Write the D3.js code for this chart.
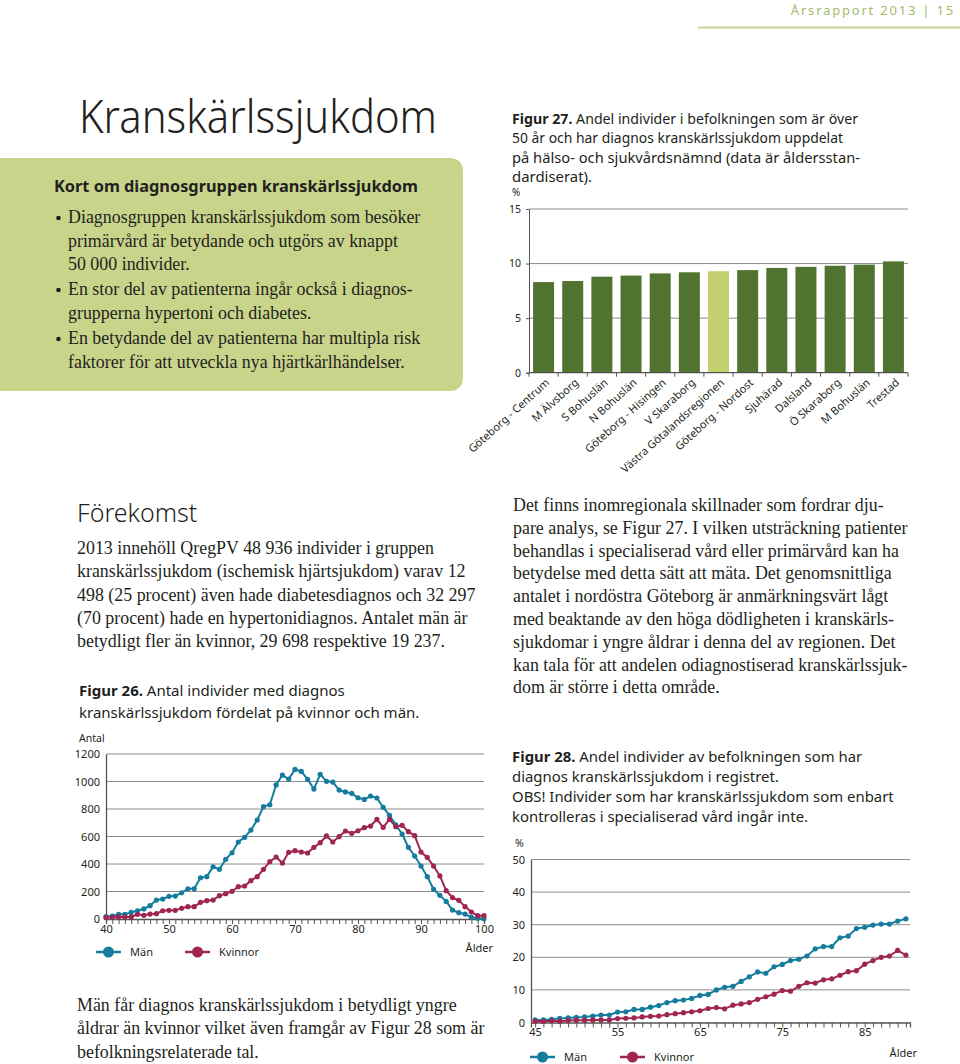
<!DOCTYPE html>
<html><head><meta charset="utf-8">
<script src="https://cdn.jsdelivr.net/npm/d3@7"></script>
<style>body{margin:0;background:#fff} svg{display:block}</style>
</head><body><svg id="c" width="960" height="1064"></svg>
<script>
// ---------- DATA ----------
const regions = ["Göteborg - Centrum","M Älvsborg","S Bohuslän","N Bohuslän","Göteborg - Hisingen","V Skaraborg","Västra Götalandsregionen","Göteborg - Nordost","Sjuhärad","Dalsland","Ö Skaraborg","M Bohuslän","Trestad"];
const regionShare = [8.3,8.4,8.8,8.9,9.1,9.2,9.3,9.4,9.6,9.7,9.8,9.9,10.2];
const highlightRegion = "Västra Götalandsregionen";
const fig27YTicks = [0,5,10,15];

const ages26 = [40,41,42,43,44,45,46,47,48,49,50,51,52,53,54,55,56,57,58,59,60,61,62,63,64,65,66,67,68,69,70,71,72,73,74,75,76,77,78,79,80,81,82,83,84,85,86,87,88,89,90,91,92,93,94,95,96,97,98,99,100];
const men26 = [17,22,34,34,48,60,73,97,138,145,165,167,191,220,220,300,308,380,361,434,482,560,594,647,720,817,831,975,1047,1018,1088,1073,1016,945,1052,1001,996,938,924,914,882,870,894,880,812,754,684,618,521,458,385,308,216,172,128,65,46,36,12,5,2];
const women26 = [10,12,15,15,15,34,27,36,39,60,63,63,78,90,90,121,133,138,170,184,201,235,240,279,308,361,417,451,407,485,497,487,480,521,555,604,560,599,640,623,642,664,676,725,667,725,671,681,635,606,487,448,385,313,206,156,136,90,51,24,24];
const fig26YTicks = [0,200,400,600,800,1000,1200];
const fig26XTicks = [40,50,60,70,80,90,100];

const ages28 = [45,46,47,48,49,50,51,52,53,54,55,56,57,58,59,60,61,62,63,64,65,66,67,68,69,70,71,72,73,74,75,76,77,78,79,80,81,82,83,84,85,86,87,88,89,90];
const men28 = [0.8,0.8,1.0,1.3,1.4,1.6,1.7,2.0,2.3,2.3,3.2,3.3,4.0,4.0,4.7,5.2,6.1,6.7,6.9,7.4,8.3,8.6,10.0,10.8,11.1,12.6,14.0,15.5,15.1,17.1,17.8,19.0,19.4,20.4,22.6,23.3,23.3,26.0,26.5,28.8,29.2,29.9,30.2,30.2,31.1,31.8];
const women28 = [0.4,0.3,0.5,0.4,0.6,0.7,0.7,0.8,0.8,0.8,1.2,1.3,1.4,1.7,1.9,2.0,2.4,2.7,3.0,3.3,3.6,4.3,4.6,4.2,5.3,5.7,6.1,7.1,7.9,8.7,9.8,9.6,11.1,12.2,12.1,13.1,13.4,14.5,15.6,15.9,17.9,19.0,20.0,20.4,22.1,20.7];
const fig28YTicks = [0,10,20,30,40,50];
const fig28XTicks = [45,55,65,75,85];

const seriesNames = ["Män","Kvinnor"];

// ---------- STYLE ----------
const C = {text:"#231f20", men:"#157c9e", women:"#9e2650", bar:"#50742f", barHi:"#c4cf6d",
  grid:"#8c8c8c", axis:"#555", box:"#c9d48b", head:"#a3ba6c"};
const SANS = "'Noto Sans', 'Open Sans', sans-serif";
const SERIF = "'Liberation Serif', 'DejaVu Serif', serif";
const BODY = 17.9;

const svg = d3.select("#c");

function textLines(x, y0, dy, arr, o) {
  arr.forEach((ln, i) => {
    const t = svg.append("text").attr("x", x).attr("y", y0 + i*dy)
      .attr("font-family", o.family).attr("font-size", o.size).attr("fill", C.text);
    if (o.weight) t.attr("font-weight", o.weight);
    if (o.fit && o.fit[i]) t.attr("textLength", o.fit[i]).attr("lengthAdjust", "spacingAndGlyphs");
    if (Array.isArray(ln)) {
      t.append("tspan").attr("font-weight", 700).text(ln[0]);
      t.append("tspan").text(ln[1]);
    } else t.text(ln);
  });
}

// ---------- HEADER ----------
svg.append("text").attr("x", 955).attr("y", 15).attr("text-anchor","end")
  .attr("font-family", SANS).attr("font-size", 13).attr("letter-spacing", 1.8)
  .attr("fill", C.head).text("Årsrapport 2013 | 15");
svg.append("line").attr("x1", 698).attr("x2", 960).attr("y1", 27.5).attr("y2", 27.5)
  .attr("stroke", "#c8d59a").attr("stroke-width", 2);

// ---------- TITLE ----------
svg.append("text").attr("x", 79).attr("y", 133).attr("font-family", SANS)
  .attr("font-weight", 300).attr("font-size", 46).attr("fill", C.text)
  .attr("textLength", 358).attr("lengthAdjust", "spacingAndGlyphs").text("Kranskärlssjukdom");

// ---------- GREEN BOX ----------
const bx = 463, by0 = 158, by1 = 391, r = 14;
svg.append("path").attr("fill", C.box)
  .attr("d", `M0,${by0} H${bx-r} Q${bx},${by0} ${bx},${by0+r} V${by1-r} Q${bx},${by1} ${bx-r},${by1} H0 Z`);
svg.append("text").attr("x", 54).attr("y", 192).attr("font-family", SANS).attr("font-weight", 700)
  .attr("font-size", 15.5).attr("fill", C.text).attr("textLength", 364).attr("lengthAdjust","spacingAndGlyphs")
  .text("Kort om diagnosgruppen kranskärlssjukdom");
const bullets = [
  ["Diagnosgruppen kranskärlssjukdom som besöker","primärvård är betydande och utgörs av knappt","50 000 individer."],
  ["En stor del av patienterna ingår också i diagnos-","grupperna hypertoni och diabetes."],
  ["En betydande del av patienterna har multipla risk","faktorer för att utveckla nya hjärtkärlhändelser."]
];
const bulletY = [223, 295, 344];
bullets.forEach((b, i) => {
  svg.append("circle").attr("cx", 58.5).attr("cy", bulletY[i]-5).attr("r", 2.3).attr("fill", C.text);
  textLines(68, bulletY[i], 23.5, b, {family: SERIF, size: BODY});
});

// ---------- FIG 27 CAPTION ----------
textLines(512, 124, 19.4, [["Figur 27.", " Andel individer i befolkningen som är över"],
  "50 år och har diagnos kranskärlssjukdom uppdelat",
  "på hälso- och sjukvårdsnämnd (data är åldersstan-",
  "dardiserat)."], {family: SANS, size: 14.5, fit: [346, 331, 348, 80]});

// ---------- FIG 27 BAR CHART ----------
{
  const x = d3.scaleBand().domain(regions).range([529, 908]).paddingInner(0.28).paddingOuter(0.14);
  const y = d3.scaleLinear().domain([0, 15]).range([372.7, 209]);
  const g = svg.append("g");
  g.append("text").attr("x", 512).attr("y", 196).attr("font-family", SANS).attr("font-size", 10)
    .attr("fill", C.text).text("%");
  g.selectAll("line.grid").data(fig27YTicks.filter(d => d > 0)).join("line")
    .attr("x1", 529).attr("x2", 908).attr("y1", d => y(d)).attr("y2", d => y(d))
    .attr("stroke", C.grid).attr("stroke-width", 1);
  g.selectAll("rect").data(regions).join("rect")
    .attr("x", d => x(d)).attr("width", x.bandwidth())
    .attr("y", (d, i) => y(regionShare[i])).attr("height", (d, i) => y(0) - y(regionShare[i]))
    .attr("fill", d => d === highlightRegion ? C.barHi : C.bar);
  const ya = g.append("g").attr("transform", "translate(529,0)")
    .call(d3.axisLeft(y).tickValues(fig27YTicks).tickSize(3).tickPadding(5));
  ya.select(".domain").attr("stroke", C.axis);
  ya.selectAll("text").attr("font-family", SANS).attr("font-size", 10.5).attr("fill", C.text);
  ya.selectAll(".tick line").attr("stroke", C.axis);
  g.append("line").attr("x1", 529).attr("x2", 908).attr("y1", y(0)).attr("y2", y(0))
    .attr("stroke", C.axis).attr("stroke-width", 1.3);
  const edges = regions.map(d => x(d) - x.step()*x.paddingInner()/2).concat([908]);
  g.selectAll("line.et").data(edges).join("line").attr("class","et")
    .attr("x1", d => d).attr("x2", d => d).attr("y1", y(0)).attr("y2", y(0)+4)
    .attr("stroke", C.axis);
  g.selectAll("text.xl").data(regions).join("text").attr("class","xl")
    .attr("transform", d => `translate(${x(d)+x.bandwidth()/2+4},${y(0)+8}) rotate(-42)`)
    .attr("text-anchor", "end").attr("dy", "0.35em")
    .attr("font-family", SANS).attr("font-size", 11).attr("fill", C.text).text(d => d);
}

// ---------- LEFT TEXT ----------
svg.append("text").attr("x", 77).attr("y", 522).attr("font-family", SANS).attr("font-weight", 300)
  .attr("font-size", 25).attr("fill", C.text).text("Förekomst");
textLines(77, 554, 23.3, [
  "2013 innehöll QregPV 48 936 individer i gruppen",
  "kranskärlssjukdom (ischemisk hjärtsjukdom) varav 12",
  "498 (25 procent) även hade diabetesdiagnos och 32 297",
  "(70 procent) hade en hypertonidiagnos. Antalet män är",
  "betydligt fler än kvinnor, 29 698 respektive 19 237."
], {family: SERIF, size: BODY});
textLines(79, 696, 22, [["Figur 26.", " Antal individer med diagnos"],
  "kranskärlssjukdom fördelat på kvinnor och män."], {family: SANS, size: 15});

// ---------- RIGHT TEXT ----------
textLines(513, 511, 22.8, [
  "Det finns inomregionala skillnader som fordrar dju-",
  "pare analys, se Figur 27. I vilken utsträckning patienter",
  "behandlas i specialiserad vård eller primärvård kan ha",
  "betydelse med detta sätt att mäta. Det genomsnittliga",
  "antalet i nordöstra Göteborg är anmärkningsvärt lågt",
  "med beaktande av den höga dödligheten i kranskärls-",
  "sjukdomar i yngre åldrar i denna del av regionen. Det",
  "kan tala för att andelen odiagnostiserad kranskärlssjuk-",
  "dom är större i detta område."
], {family: SERIF, size: BODY});
textLines(512, 762, 20, [["Figur 28.", " Andel individer av befolkningen som har"],
  "diagnos kranskärlssjukdom i registret.",
  "OBS! Individer som har kranskärlssjukdom som enbart",
  "kontrolleras i specialiserad vård ingår inte."], {family: SANS, size: 14.9});

// ---------- BOTTOM LEFT TEXT ----------
textLines(77, 1011, 23.3, [
  "Män får diagnos kranskärlssjukdom i betydligt yngre",
  "åldrar än kvinnor vilket även framgår av Figur 28 som är",
  "befolkningsrelaterade tal."
], {family: SERIF, size: BODY});

// ---------- LINE CHART HELPER ----------
function lineChart(o) {
  const g = svg.append("g");
  const x = d3.scaleLinear().domain(o.xDomain).range(o.xRange);
  const y = d3.scaleLinear().domain(o.yDomain).range(o.yRange);
  const [x0, x1] = o.xRange, [yb, yt] = o.yRange;
  g.append("text").attr("x", o.unitX).attr("y", o.unitY).attr("font-family", SANS)
    .attr("font-size", 10.5).attr("fill", C.text).text(o.unit);
  g.selectAll("line.grid").data(o.yTicks.filter(d => d > 0)).join("line").attr("class","grid")
    .attr("x1", x0).attr("x2", x1).attr("y1", d => y(d)).attr("y2", d => y(d))
    .attr("stroke", C.grid).attr("stroke-width", 1);
  const ya = g.append("g").attr("transform", `translate(${x0},0)`)
    .call(d3.axisLeft(y).tickValues(o.yTicks).tickSize(0).tickPadding(6).tickFormat(d3.format("d")));
  ya.select(".domain").attr("stroke", C.axis).attr("stroke-width", 1.3);
  ya.selectAll("text").attr("font-family", SANS).attr("font-size", 11).attr("fill", C.text);
  const xa = g.append("g").attr("transform", `translate(0,${yb})`)
    .call(d3.axisBottom(x).tickValues(o.xs).tickSize(5).tickFormat(""));
  xa.select(".domain").attr("stroke", C.axis).attr("stroke-width", 1.3);
  xa.selectAll(".tick line").attr("stroke", C.axis);
  const xl = g.append("g").attr("transform", `translate(0,${yb})`)
    .call(d3.axisBottom(x).tickValues(o.xTicks).tickSize(0).tickPadding(6).tickFormat(d3.format("d")));
  xl.select(".domain").remove();
  xl.selectAll("text").attr("font-family", SANS).attr("font-size", 11).attr("fill", C.text);
  const series = [[o.men, C.men], [o.women, C.women]];
  const line = d3.line().x((d, i) => x(o.xs[i])).y(d => y(d));
  series.forEach(([vals, col]) => {
    g.append("path").attr("d", line(vals)).attr("fill", "none").attr("stroke", col).attr("stroke-width", 2);
    g.append("g").selectAll("circle").data(vals).join("circle")
      .attr("cx", (d, i) => x(o.xs[i])).attr("cy", d => y(d)).attr("r", 2.6).attr("fill", col);
  });
  g.append("text").attr("x", o.alderX).attr("y", o.alderY).attr("text-anchor", "end")
    .attr("font-family", SANS).attr("font-size", 11).attr("fill", C.text).text("Ålder");
  o.legend.forEach((lx, i) => {
    const col = i === 0 ? C.men : C.women;
    g.append("line").attr("x1", lx).attr("x2", lx+25).attr("y1", o.legendY).attr("y2", o.legendY)
      .attr("stroke", col).attr("stroke-width", 2.5);
    g.append("circle").attr("cx", lx+12.5).attr("cy", o.legendY).attr("r", 5.5).attr("fill", col);
    g.append("text").attr("x", lx+34).attr("y", o.legendY+4).attr("font-family", SANS)
      .attr("font-size", 11).attr("fill", C.text).text(seriesNames[i]);
  });
}

lineChart({xDomain: [40, 100], xRange: [106, 484], yDomain: [0, 1200], yRange: [919, 754],
  xs: ages26, men: men26, women: women26, yTicks: fig26YTicks, xTicks: fig26XTicks,
  unit: "Antal", unitX: 79, unitY: 742, alderX: 493, alderY: 952, legend: [96, 185], legendY: 952});

lineChart({xDomain: [44.5, 90.5], xRange: [531, 910], yDomain: [0, 50], yRange: [1022.5, 859.5],
  xs: ages28, men: men28, women: women28, yTicks: fig28YTicks, xTicks: fig28XTicks,
  unit: "%", unitX: 515, unitY: 847, alderX: 917, alderY: 1057, legend: [530, 620], legendY: 1057});
</script></body></html>
